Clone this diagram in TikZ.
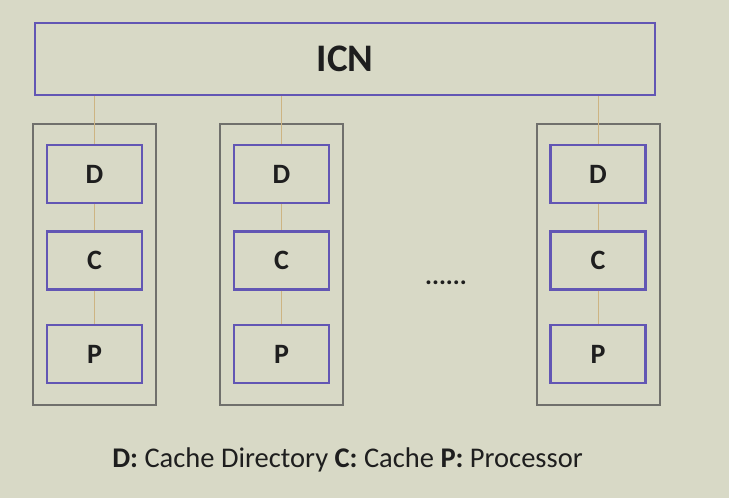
\documentclass[tikz,border=0pt]{standalone}
\usepackage{fontspec}
\setmainfont{Carlito}
\definecolor{bgc}{RGB}{216,217,198}
\definecolor{purp}{RGB}{98,86,180}
\definecolor{grayb}{RGB}{112,112,108}
\definecolor{tanl}{RGB}{205,180,130}
\definecolor{txt}{RGB}{30,30,30}
\tikzset{
  unitbox/.style={draw=purp, line width=2.2pt, minimum width=95pt, minimum height=58pt, inner sep=0pt, font=\fontsize{28}{28}\selectfont\bfseries, text=txt},
  outerbox/.style={draw=grayb, line width=1.4pt},
  link/.style={draw=tanl, line width=0.9pt},
}
\begin{document}
\begin{tikzpicture}[x=1pt,y=-1pt]
\fill[bgc] (0,0) rectangle (729,498);
\useasboundingbox (0,0) rectangle (729,498);
\node[draw=purp, line width=2.2pt, minimum width=620pt, minimum height=72pt, inner sep=0pt, font=\fontsize{39}{39}\selectfont\bfseries, text=txt] (icn) at (345,59) {ICN};
% outer boxes
\draw[outerbox] (33,124) rectangle (156,405);
\draw[outerbox] (220,124) rectangle (343,405);
\draw[outerbox] (537,124) rectangle (660,405);
% column 1
\node[unitbox] (d1) at (94.5,174) {D};
\node[unitbox] (c1) at (94.5,260.5) {C};
\node[unitbox] (p1) at (94.5,354) {P};
% column 2
\node[unitbox] (d2) at (281.5,174) {D};
\node[unitbox] (c2) at (281.5,260.5) {C};
\node[unitbox] (p2) at (281.5,354) {P};
% column 3
\node[unitbox] (d3) at (598,174) {D};
\node[unitbox] (c3) at (598,260.5) {C};
\node[unitbox] (p3) at (598,354) {P};
% links
\draw[link] (d1.north) -- (d1.north |- icn.south);
\draw[link] (d2.north) -- (d2.north |- icn.south);
\draw[link] (d3.north) -- (d3.north |- icn.south);
\foreach \i in {1,2,3}{
  \draw[link] (d\i.south) -- (c\i.north);
  \draw[link] (c\i.south) -- (p\i.north);
}
\node[font=\fontsize{26}{26}\selectfont\bfseries, text=txt, inner sep=0pt, anchor=base] (dots) at (446,284) {......};
\node[font=\fontsize{28.5}{28.5}\selectfont, text=txt, inner sep=0pt, anchor=base] (legend) at (347.5,467) {\textbf{D:} Cache Directory \textbf{C:} Cache \textbf{P:} Processor};
\end{tikzpicture}
\end{document}
